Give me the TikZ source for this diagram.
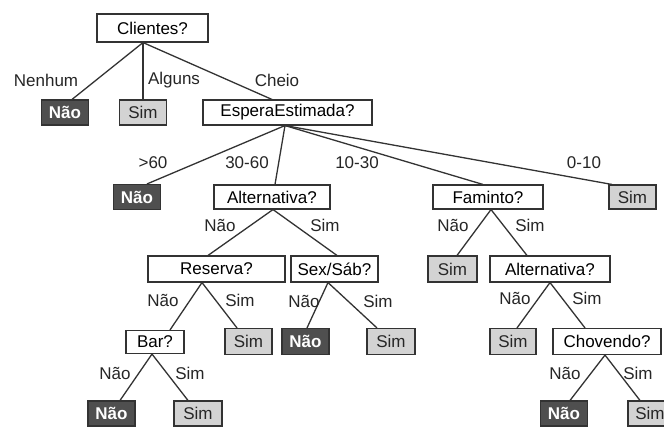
\documentclass[tikz,border=0pt]{standalone}
\usepackage{fontspec}
\setmainfont{Liberation Sans}
\definecolor{darkfill}{HTML}{4F4F4F}
\definecolor{lightfill}{HTML}{D3D3D3}
\definecolor{edge}{HTML}{333333}
\begin{document}
\begin{tikzpicture}[x=1pt,y=-1pt,
  every node/.style={font=\fontsize{17}{18}\selectfont, inner sep=0pt},
  qbox/.style={draw=edge, line width=1.1pt, fill=white, minimum height=25pt},
  nobox/.style={draw=edge, line width=1.1pt, fill=darkfill, text=white, font=\fontsize{17}{18}\selectfont\bfseries, minimum width=47pt, minimum height=25pt},
  simbox/.style={draw=edge, line width=1.1pt, fill=lightfill, text=black!85, minimum width=47pt, minimum height=25pt},
  lbl/.style={text=black!85},
  conn/.style={draw=edge, line width=1.3pt}]
\clip (0,0) rectangle (664,426);
\fill[white] (0,0) rectangle (664,426);
% row 0
\node[qbox, minimum width=111pt, minimum height=28pt] (c1) at (152.5,28) {Clientes?};
% row 1
\node[nobox] (n1) at (65,112.5) {Não};
\node[simbox] (s1) at (143,112.5) {Sim};
\node[qbox, minimum width=169pt] (ee) at (287.5,112.5) {EsperaEstimada?};
% row 2
\node[nobox] (n2) at (137,197) {Não};
\node[qbox, minimum width=116pt, minimum height=24pt] (alt1) at (272,197) {Alternativa?};
\node[qbox, minimum width=110pt, minimum height=24pt] (fam) at (488,197) {Faminto?};
\node[simbox, minimum height=24pt] (s2) at (632.5,197) {Sim};
% row 3
\node[qbox, minimum width=137pt, minimum height=26pt] (res) at (216.5,269) {Reserva?};
\node[qbox, minimum width=87pt, minimum height=26pt] (sex) at (334.5,269) {Sex/Sáb?};
\node[simbox, minimum width=49pt, minimum height=26pt] (s3) at (452.5,269) {Sim};
\node[qbox, minimum width=120pt, minimum height=26pt] (alt2) at (550,269) {Alternativa?};
% row 4
\node[qbox, minimum width=58pt, minimum height=23pt] (bar) at (155,342) {Bar?};
\node[simbox, minimum height=26pt] (s4) at (248.5,341.5) {Sim};
\node[nobox, minimum height=26pt] (n4) at (305.5,341.5) {Não};
\node[simbox, minimum width=48pt, minimum height=26pt] (s5) at (391,341.5) {Sim};
\node[simbox, minimum width=46pt, minimum height=26pt] (s6) at (513,341.5) {Sim};
\node[qbox, minimum width=108pt, minimum height=26pt] (chov) at (607,341.5) {Chovendo?};
% row 5
\node[nobox] (n5) at (111.5,413.5) {Não};
\node[simbox, minimum width=48pt] (s7) at (198,413.5) {Sim};
\node[nobox] (n6) at (564,413.5) {Não};
\node[simbox, minimum width=44pt] (s8) at (650,413.5) {Sim};
% connectors
\draw[conn] ([xshift=-9.5pt]c1.south) -- ([xshift=7pt]n1.north);
\draw[conn] ([xshift=-9.5pt]c1.south) -- (s1.north);
\draw[conn] ([xshift=-9.5pt]c1.south) -- ([xshift=-15.5pt]ee.north);
\draw[conn] ([xshift=-2.5pt]ee.south) -- ([xshift=10pt]n2.north);
\draw[conn] ([xshift=-2.5pt]ee.south) -- ([xshift=3pt]alt1.north);
\draw[conn] ([xshift=-2.5pt]ee.south) -- ([xshift=-5pt]fam.north);
\draw[conn] ([xshift=-2.5pt]ee.south) -- ([xshift=-20.5pt]s2.north);
\draw[conn] ([xshift=1pt]alt1.south) -- ([xshift=-8.5pt]res.north);
\draw[conn] ([xshift=1pt]alt1.south) -- ([xshift=2.5pt]sex.north);
\draw[conn] ([xshift=3pt]fam.south) -- ([xshift=4.5pt]s3.north);
\draw[conn] ([xshift=3pt]fam.south) -- ([xshift=-23pt]alt2.north);
\draw[conn] ([xshift=-14.5pt]res.south) -- ([xshift=15pt]bar.north);
\draw[conn] ([xshift=-14.5pt]res.south) -- ([xshift=-11.5pt]s4.north);
\draw[conn] ([xshift=-6.5pt]sex.south) -- ([xshift=1.5pt]n4.north);
\draw[conn] ([xshift=-6.5pt]sex.south) -- ([xshift=-14pt]s5.north);
\draw[conn] (alt2.south) -- ([xshift=4pt]s6.north);
\draw[conn] (alt2.south) -- ([xshift=-22pt]chov.north);
\draw[conn] ([xshift=-3pt]bar.south) -- ([xshift=8.5pt]n5.north);
\draw[conn] ([xshift=-3pt]bar.south) -- ([xshift=-10pt]s7.north);
\draw[conn] ([xshift=-2pt]chov.south) -- ([xshift=6pt]n6.north);
\draw[conn] ([xshift=-2pt]chov.south) -- ([xshift=-10pt]s8.north);
% edge labels
\node[lbl] (l1) at (46,80) {Nenhum};
\node[lbl] (l2) at (174,80) {Alguns};
\node[lbl] (l3) at (277,80) {Cheio};
\node[lbl] (l4) at (153,163) {>60};
\node[lbl] (l5) at (247,163) {30-60};
\node[lbl] (l6) at (357,163) {10-30};
\node[lbl] (l7) at (584,163) {0-10};
\node[lbl] (l8) at (220,225) {Não};
\node[lbl] (l9) at (325,225) {Sim};
\node[lbl] (l10) at (453,225) {Não};
\node[lbl] (l11) at (530,225) {Sim};
\node[lbl] (l12) at (163,300) {Não};
\node[lbl] (l13) at (240,300) {Sim};
\node[lbl] (l14) at (304,301) {Não};
\node[lbl] (l15) at (378,301) {Sim};
\node[lbl] (l16) at (515,298) {Não};
\node[lbl] (l17) at (587,298) {Sim};
\node[lbl] (l18) at (115,373) {Não};
\node[lbl] (l19) at (190,373) {Sim};
\node[lbl] (l20) at (565,373) {Não};
\node[lbl] (l21) at (638,373) {Sim};
\end{tikzpicture}
\end{document}
